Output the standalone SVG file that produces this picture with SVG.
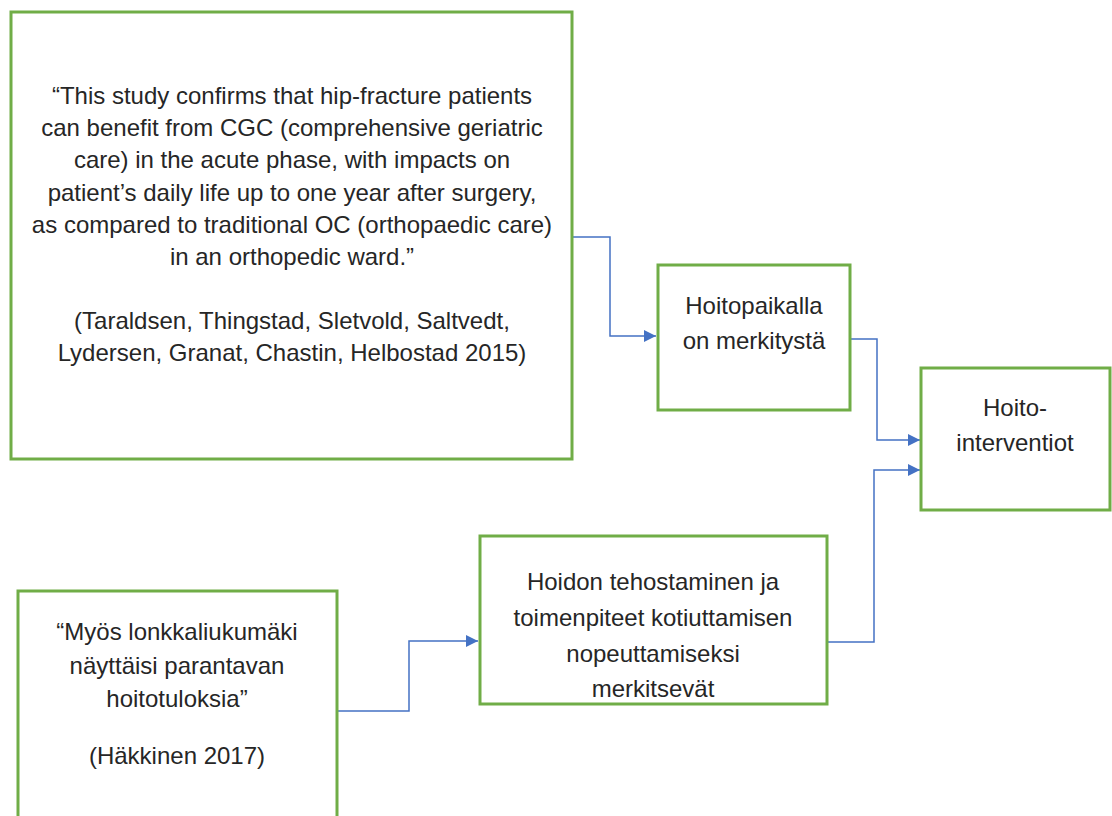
<svg xmlns="http://www.w3.org/2000/svg" width="1112" height="816" viewBox="0 0 1112 816">
<style>
.box{fill:#fff;stroke:#70AD47;stroke-width:3}
.t{font-family:"Liberation Sans",Arial,sans-serif;font-size:24px;fill:#262626;text-anchor:middle}
.c{fill:none;stroke:#4472C4;stroke-width:1.5}
</style>
<defs>
<marker id="ah" viewBox="0 0 10 10" refX="10" refY="5" markerWidth="12" markerHeight="12" markerUnits="userSpaceOnUse" orient="auto">
<path d="M0,0 L10,5 L0,10 z" fill="#4472C4"/>
</marker>
</defs>
<rect width="1112" height="816" fill="#fff"/>
<g id="connectors">
<path class="c" d="M573,237 H610 V336 H656" marker-end="url(#ah)"/>
<path class="c" d="M850,339 H877 V440 H920" marker-end="url(#ah)"/>
<path class="c" d="M827,642 H874 V470 H920" marker-end="url(#ah)"/>
<path class="c" d="M337,711 H409 V641 H478" marker-end="url(#ah)"/>
</g>
<g id="n1">
<rect class="box" x="11" y="12" width="561" height="447"/>
<text class="t"><tspan x="292" y="104">“This study confirms that hip-fracture patients</tspan><tspan x="292" y="136">can benefit from CGC (comprehensive geriatric</tspan><tspan x="292" y="168">care) in the acute phase, with impacts on</tspan><tspan x="292" y="201">patient’s daily life up to one year after surgery,</tspan><tspan x="292" y="233">as compared to traditional OC (orthopaedic care)</tspan><tspan x="292" y="265">in an orthopedic ward.”</tspan><tspan x="292" y="329">(Taraldsen, Thingstad, Sletvold, Saltvedt,</tspan><tspan x="292" y="361">Lydersen, Granat, Chastin, Helbostad 2015)</tspan></text>
</g>
<g id="n2">
<rect class="box" x="658" y="265" width="192" height="145"/>
<text class="t"><tspan x="754" y="314">Hoitopaikalla</tspan><tspan x="754" y="349">on merkitystä</tspan></text>
</g>
<g id="n3">
<rect class="box" x="921" y="368" width="189" height="142"/>
<text class="t"><tspan x="1015" y="416">Hoito-</tspan><tspan x="1015" y="451">interventiot</tspan></text>
</g>
<g id="n4">
<rect class="box" x="480" y="536" width="347" height="168"/>
<text class="t"><tspan x="653" y="590">Hoidon tehostaminen ja</tspan><tspan x="653" y="626">toimenpiteet kotiuttamisen</tspan><tspan x="653" y="662">nopeuttamiseksi</tspan><tspan x="653" y="697">merkitsevät</tspan></text>
</g>
<g id="n5">
<rect class="box" x="18" y="591" width="319" height="240"/>
<text class="t"><tspan x="177" y="640">“Myös lonkkaliukumäki</tspan><tspan x="177" y="674">näyttäisi parantavan</tspan><tspan x="177" y="707">hoitotuloksia”</tspan><tspan x="177" y="764">(Häkkinen 2017)</tspan></text>
</g>
</svg>
